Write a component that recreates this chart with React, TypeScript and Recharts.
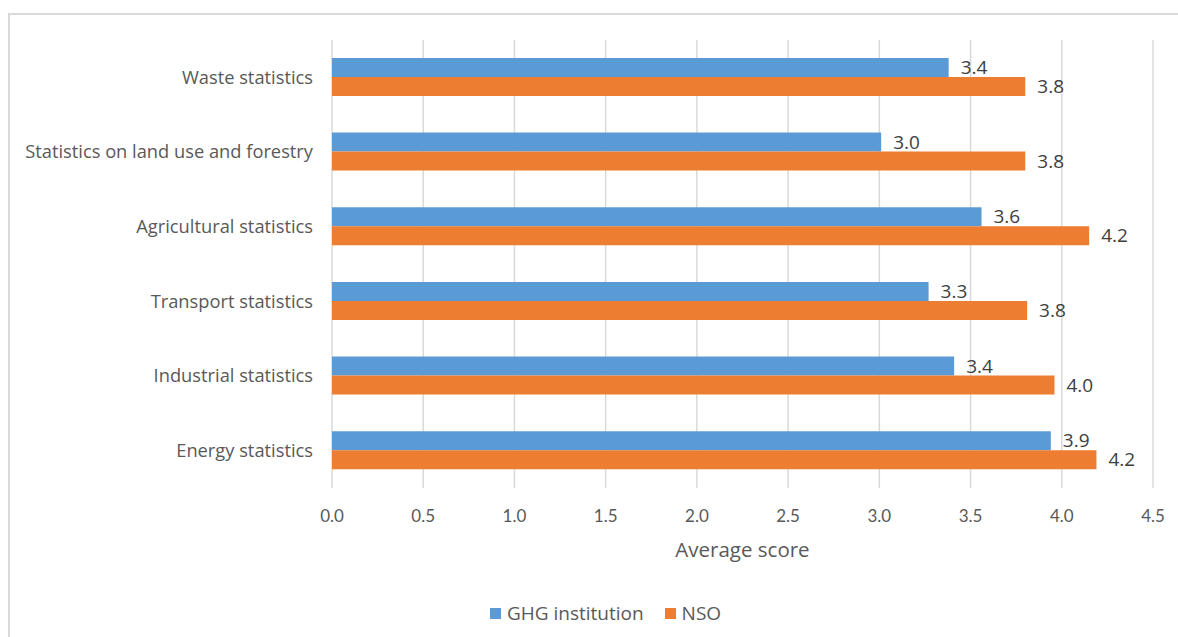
import React from 'react';
import { BarChart, Bar, XAxis, YAxis, CartesianGrid, Legend, LabelList } from 'recharts';

const categories = [
  'Waste statistics',
  'Statistics on land use and forestry',
  'Agricultural statistics',
  'Transport statistics',
  'Industrial statistics',
  'Energy statistics',
];
const ghgValues = [3.38, 3.01, 3.56, 3.27, 3.41, 3.94];
const nsoValues = [3.8, 3.8, 4.15, 3.81, 3.96, 4.19];
const xTicks = [0, 0.5, 1, 1.5, 2, 2.5, 3, 3.5, 4, 4.5];

const BLUE = '#5B9BD5';
const ORANGE = '#ED7D31';
const FONT = '"Open Sans", Lato, sans-serif';
const TICK_FONT = 'Lato, "Open Sans", sans-serif';

const data = categories.map((name, i) => ({
  name,
  ghg: ghgValues[i],
  nso: nsoValues[i],
}));

const LegendBox = () => (
  <div
    style={{
      height: 24,
      display: 'flex',
      justifyContent: 'center',
      alignItems: 'center',
      fontFamily: FONT,
      fontSize: 19,
      color: '#595959',
      paddingLeft: 58,
    }}
  >
    <span style={{ width: 11, height: 11, background: BLUE, marginRight: 6, display: 'inline-block' }} />
    <span style={{ marginRight: 21 }}>GHG institution</span>
    <span style={{ width: 11, height: 11, background: ORANGE, marginRight: 6, display: 'inline-block' }} />
    <span>NSO</span>
  </div>
);

const App: React.FC = () => {
  return (
    <div style={{ position: 'absolute', left: 0, top: 0, width: 1178, height: 637, overflow: 'hidden', background: '#fff' }}>
      <div
        style={{
          position: 'absolute',
          left: 8,
          top: 13,
          width: 1300,
          height: 800,
          border: '2px solid #d9d9d9',
        }}
      />
      <div style={{ position: 'absolute', left: 0, top: 0 }}>
        <BarChart
          width={1178}
          height={637}
          data={data}
          layout="vertical"
          margin={{ top: 40, right: 25, left: 0, bottom: 12 }}
          barCategoryGap="24%"
          barGap={0}
        >
          <CartesianGrid horizontal={false} stroke="#d9d9d9" strokeWidth={1.5} />
          <XAxis
            type="number"
            domain={[0, 4.5]}
            ticks={xTicks}
            tickFormatter={(v: number) => v.toFixed(1)}
            axisLine={false}
            tickLine={false}
            tickSize={0}
            tickMargin={22}
            height={113}
            tick={{ fill: '#595959', fontSize: 17, fontFamily: TICK_FONT }}
            label={{
              value: 'Average score',
              position: 'insideBottom',
              offset: 44,
              fill: '#595959',
              fontSize: 20.5,
              fontFamily: FONT,
            }}
          />
          <YAxis
            type="category"
            dataKey="name"
            width={332}
            axisLine={false}
            tickLine={false}
            tickSize={0}
            tickMargin={19}
            tick={{ fill: '#595959', fontSize: 18.3, fontFamily: FONT }}
          />
          <Legend verticalAlign="bottom" content={() => <LegendBox />} />
          <Bar dataKey="ghg" name="GHG institution" fill={BLUE} isAnimationActive={false}>
            <LabelList
              dataKey="ghg"
              position="right"
              offset={12}
              formatter={(v: number) => v.toFixed(1)}
              style={{ fill: '#404040', fontSize: 19, fontFamily: FONT }}
            />
          </Bar>
          <Bar dataKey="nso" name="NSO" fill={ORANGE} isAnimationActive={false}>
            <LabelList
              dataKey="nso"
              position="right"
              offset={12}
              formatter={(v: number) => v.toFixed(1)}
              style={{ fill: '#404040', fontSize: 19, fontFamily: FONT }}
            />
          </Bar>
        </BarChart>
      </div>
    </div>
  );
};

export default App;
